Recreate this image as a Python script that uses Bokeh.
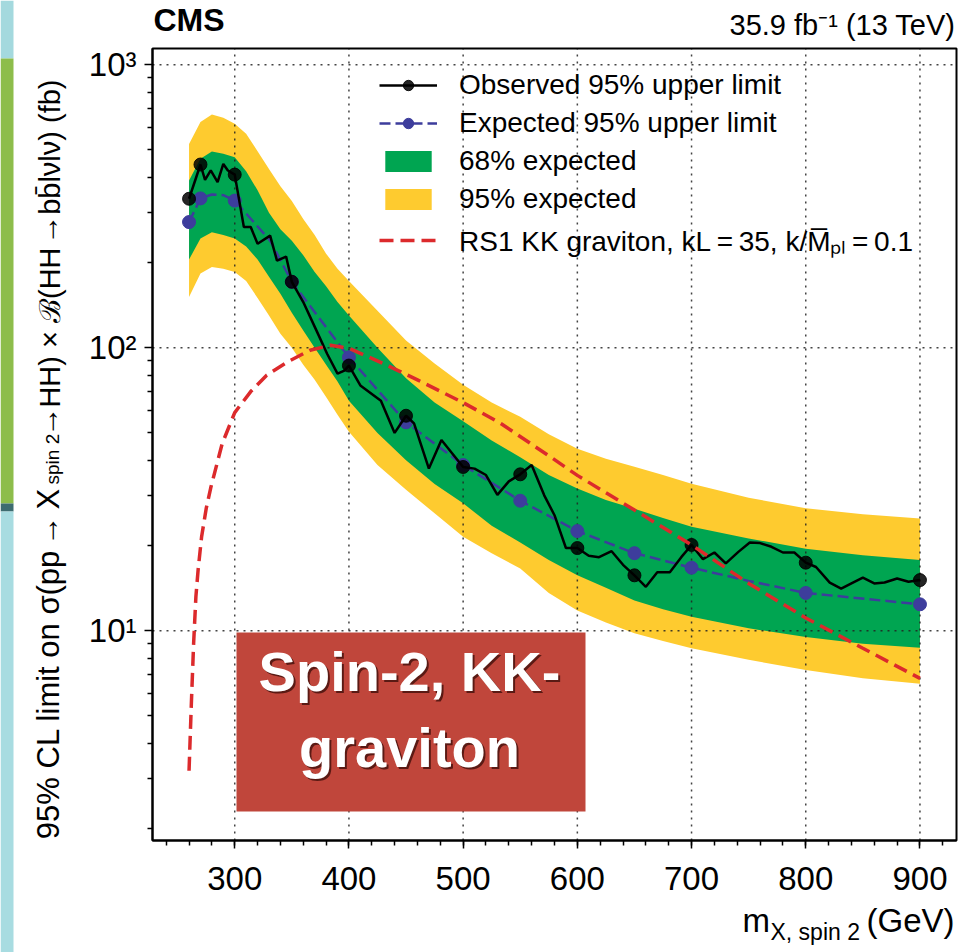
import math
from bokeh.plotting import figure
from bokeh.models import (Range1d, FixedTicker, Label, BoxAnnotation, Legend, LegendItem)
from bokeh.embed import file_html
from bokeh.resources import INLINE

FONT = "Liberation Sans"

# ---------------- data ----------------
mass_obs_markers = [260, 270, 300, 350, 400, 450, 500, 550, 600, 650, 700, 800, 900]
obs_markers = [336, 444, 409, 171, 86.5, 57.5, 37.9, 35.7, 19.6, 15.7, 20.1, 17.4, 15.1]

mass_exp_markers = [260, 270, 300, 350, 400, 450, 500, 550, 600, 650, 700, 800, 900]
exp_markers = [278, 337, 331, 171, 92.5, 54.5, 38.5, 28.8, 22.5, 18.8, 16.7, 13.6, 12.4]

obs_line_mass = [260, 270, 274, 279, 285, 290, 294, 300, 308, 314, 320, 331, 337, 345, 350,
                 360, 372, 381, 390, 396, 400, 410, 428, 440, 450, 457, 470, 481, 500,
                 510, 520, 530, 540, 550, 560, 571, 580, 590, 600, 610, 619, 630, 640, 650,
                 660, 670, 681, 691, 700, 710, 720, 730, 741, 751, 760, 770, 780, 790, 800,
                 809, 821, 831, 840, 850, 860, 869, 880, 890, 900]
obs_line_val = [336, 444, 392, 423, 385, 446, 423, 409, 267, 267, 233, 249, 203, 210, 171,
                145, 114, 95, 81, 83, 86.5, 73.6, 65, 50, 57.5, 54, 37.4, 47.2, 37.9,
                37.4, 35.5, 30.2, 33.7, 35.7, 38.5, 30.1, 25.6, 19.6, 19.6, 18.4, 18.2, 19.1, 17.1, 15.7,
                14.3, 16.1, 16.1, 18.2, 20.1, 17.9, 18.9, 17.3, 19.0, 20.5, 20.4, 19.8, 18.9, 18.9, 17.4,
                16.8, 14.8, 14.1, 14.7, 15.4, 14.7, 14.8, 15.3, 14.9, 15.1]

exp_line_mass = [260, 270, 280, 290, 300, 331, 350, 400, 450, 500, 550, 600, 650, 700, 750, 800, 900]
exp_line_val = [278, 337, 348, 346, 331, 239, 171, 92.5, 54.5, 38.5, 28.8, 22.5, 18.8, 16.7, 15.0, 13.6, 12.4]

band_mass = [260, 270, 280, 290, 300, 310, 320, 330, 340, 350, 360, 370, 380, 390, 400,
             425, 450, 475, 500, 525, 550, 575, 600, 625, 650, 675, 700, 750, 800, 850, 900]
band95_up = [525, 627, 667, 650, 618, 570, 495, 428, 372, 330, 285, 250, 215, 190, 172,
             135, 106, 88, 74, 64, 57, 49.5, 44, 40.5, 38, 35.5, 33.1, 29.5, 27.1, 25.8, 24.9]
band68_up = [390, 465, 494, 485, 471, 420, 360, 300, 262, 239, 212, 185, 165, 145, 130,
             100, 78, 64, 55, 47, 41, 35.5, 31.8, 29, 27, 25, 23.3, 21.2, 19.5, 18.5, 17.8]
band68_dn = [205, 243, 256, 250, 243, 228, 205, 178, 155, 133, 115, 100, 87, 76, 65,
             50, 40, 33, 28.2, 23.5, 20.5, 17.8, 15.7, 14.2, 12.8, 11.9, 11.2, 10.2, 9.5, 9.0, 8.7]
band95_dn = [151, 183, 193, 190, 185, 172, 150, 130, 112, 100, 87, 77, 67, 58, 50.5,
             38.5, 31.5, 26, 21.5, 18.8, 16.6, 13.6, 11.8, 10.7, 9.8, 9.2, 8.67, 7.9, 7.26, 6.8, 6.5]

rs_mass = [260, 262, 264, 266, 268, 271, 275, 279, 289, 300, 314, 328, 346, 366, 384, 400,
           430, 460, 500, 533, 577, 600, 650, 700, 750, 800, 850, 900]
rs_val = [3.2, 5.5, 9.0, 13.2, 16.5, 21.5, 27, 32, 45.8, 59, 70, 80, 89, 98, 102, 99.5,
          88, 77, 64, 54, 41, 35.4, 26.7, 20.1, 14.7, 11.1, 8.67, 6.79]

x_major = [300, 400, 500, 600, 700, 800, 900]
x_minor = list(range(240, 940, 20))
y_major = [10, 100, 1000]
y_minor = [d * k for d in (1, 10, 100) for k in range(2, 10)]
y_labels = {10: "10\u00b9", 100: "10\u00b2", 1000: "10\u00b3"}

TS = "\u2009"
ARROW = "\u2192"
legend_labels = ["Observed 95% upper limit", "Expected 95% upper limit", "68% expected",
                 "95% expected",
                 "RS1 KK graviton, kL" + TS + "=" + TS + "35, k/M\u0305\u209a\u2097" + TS + "=" + TS + "0.1"]

# ---------------- layout constants (pixels in the 971x952 window) ----------------
W, H = 971, 952
AX_X = (228, 932)          # x-axis limits (data)
AX_Y = (1.815, 1141)       # y-axis limits (data)
PL, PR, PT, PB = 152, 956, 48, 840   # plot-area edges in window pixels

gev_per_px = (AX_X[1] - AX_X[0]) / (PR - PL)
x_lo = AX_X[0] - PL * gev_per_px
x_hi = AX_X[1] + (W - PR) * gev_per_px
dec_per_px = (math.log10(AX_Y[1]) - math.log10(AX_Y[0])) / (PB - PT)
y_hi = 10 ** (math.log10(AX_Y[1]) + PT * dec_per_px)
y_lo = 10 ** (math.log10(AX_Y[0]) - (H - PB) * dec_per_px)


def px_x(px):
    return x_lo + px * gev_per_px


def px_y(py):
    return 10 ** (math.log10(y_hi) - py * dec_per_px)


# decorative strip at the window's left edge
strip_edges = [0, 58, 503, 511, 952]
strip_colors = ["#a4d9de", "#8dbd4b", "#3d6c70", "#a8dce1"]

GREEN = "#00a551"
YELLOW = "#fecb2f"
BLUE = "#3d3d9c"
RED = "#dc2a2c"

p = figure(width=W, height=H, x_range=Range1d(x_lo, x_hi), y_range=Range1d(y_lo, y_hi),
           y_axis_type="log", output_backend="svg", toolbar_location=None, min_border=0)
p.background_fill_color = "white"
p.border_fill_color = "white"
p.outline_line_color = None

# strip
p.quad(left=px_x(0), right=px_x(13), top=[px_y(v) for v in strip_edges[:-1]],
       bottom=[px_y(v) for v in strip_edges[1:]], fill_color=strip_colors, line_color=None,
       level="image")

# bands
yellow_r = p.varea(x=band_mass, y1=band95_dn, y2=band95_up, fill_color=YELLOW, level="image")
green_r = p.varea(x=band_mass, y1=band68_dn, y2=band68_up, fill_color=GREEN, level="image")

# grid (dotted, above the bands)
p.xgrid.visible = False
p.ygrid.visible = False
p.segment(x0=x_major, x1=x_major, y0=[AX_Y[0]] * len(x_major), y1=[AX_Y[1]] * len(x_major),
          line_color="#222222", line_dash="2 5", line_width=1.5, line_alpha=0.85, level="underlay")
p.segment(x0=[AX_X[0]] * len(y_major), x1=[AX_X[1]] * len(y_major), y0=y_major, y1=y_major,
          line_color="#222222", line_dash="2 5", line_width=1.5, line_alpha=0.85, level="underlay")

exp_line_r = p.line(exp_line_mass, exp_line_val, line_color=BLUE, line_width=2.5, line_dash="11 5")
exp_mark_r = p.scatter(mass_exp_markers, exp_markers, size=13, fill_color=BLUE, line_color=BLUE)
obs_line_r = p.line(obs_line_mass, obs_line_val, line_color="black", line_width=2.5)
obs_mark_r = p.scatter(mass_obs_markers, obs_markers, size=13, fill_color="black",
                       line_color="black", fill_alpha=0.85, line_alpha=0.85)
rs_r = p.line(rs_mass, rs_val, line_color=RED, line_width=3.5, line_dash="14 7")

# frame box
p.add_layout(BoxAnnotation(left=AX_X[0], right=AX_X[1], bottom=AX_Y[0], top=AX_Y[1],
                           fill_alpha=0, line_color="black", line_width=2, line_alpha=1))

# axes placed on the plot-area edges
p.xaxis.fixed_location = AX_Y[0]
p.yaxis.fixed_location = AX_X[0]
p.xaxis.bounds = AX_X
p.yaxis.bounds = AX_Y
p.xaxis.ticker = FixedTicker(ticks=x_major, minor_ticks=x_minor)
p.yaxis.ticker = FixedTicker(ticks=y_major, minor_ticks=y_minor)
p.yaxis.major_label_overrides = y_labels
for ax in (p.xaxis[0], p.yaxis[0]):
    ax.axis_line_width = 2
    ax.axis_line_color = "black"
    ax.major_tick_line_width = 1.5
    ax.minor_tick_line_width = 1.5
    ax.major_tick_line_color = "black"
    ax.minor_tick_line_color = "black"
    ax.major_tick_in = 0
    ax.major_tick_out = 8
    ax.minor_tick_in = 0
    ax.minor_tick_out = 5
    ax.major_label_text_font = FONT
    ax.major_label_text_font_size = "33px"
    ax.major_label_text_color = "black"
p.xaxis.major_label_standoff = 18
p.yaxis.major_label_standoff = 8

# legend (screen units from the bottom-left of the window)
legend = Legend(items=[
    LegendItem(label=legend_labels[0], renderers=[obs_line_r, obs_mark_r]),
    LegendItem(label=legend_labels[1], renderers=[exp_line_r, exp_mark_r]),
    LegendItem(label=legend_labels[2], renderers=[green_r]),
    LegendItem(label=legend_labels[3], renderers=[yellow_r]),
    LegendItem(label=legend_labels[4], renderers=[rs_r]),
], location=(379, H - 259), orientation="vertical", padding=0, margin=0, spacing=6,
    glyph_width=58, glyph_height=26, label_height=32, label_standoff=22,
    label_text_font=FONT, label_text_font_size="28px", label_text_color="black",
    border_line_color=None, background_fill_alpha=0)
p.add_layout(legend)


def add_text(px, py, text, size, align="left", angle=0.0, bold=False, font=FONT, color="black"):
    p.add_layout(Label(x=px, y=H - py, x_units="screen", y_units="screen", text=text,
                       text_align=align, angle=angle, text_font=font,
                       text_font_style="bold" if bold else "normal",
                       text_font_size=f"{size}px", text_color=color))


# headers
add_text(153, 37, "CMS", 32, bold=True)
add_text(955, 40, "35.9 fb\u207b\u00b9 (13 TeV)", 29, align="right")

# x-axis title
add_text(742, 938, "m", 33)
add_text(770, 944, "X, spin 2", 23)
add_text(954, 938, "(GeV)", 33, align="right")

# y-axis title (rotated, built from pieces)
ang = math.pi / 2
add_text(65, 549, "95% CL limit on \u03c3(pp", 31, align="right", angle=ang)
add_text(63, 530, ARROW, 30, align="center", angle=ang)
add_text(65, 509, "X", 31, angle=ang)
add_text(62, 484, "spin 2", 19, angle=ang)
add_text(63, 421, ARROW, 30, align="center", angle=ang)
add_text(65, 327, "HH) \u00d7 \u212c(HH", 29, align="center", angle=ang)
add_text(63, 229, ARROW, 30, align="center", angle=ang)
add_text(65, 79, "bb\u0304l\u03bdl\u03bd) (fb)", 29, align="right", angle=ang)

# red note box
p.add_layout(BoxAnnotation(left=px_x(236), right=px_x(585), bottom=px_y(811), top=px_y(632),
                           fill_color="#c0463b", fill_alpha=1, line_color=None))
for (px, py, tt) in [(409, 702, "Spin-2, KK-"), (409, 778, "graviton")]:
    add_text(px + 2, py + 2, tt, 56, align="center", bold=True, color="#5a1a14")
    add_text(px, py, tt, 56, align="center", bold=True, color="white")

open("out.html", "w").write(file_html(p, INLINE))
